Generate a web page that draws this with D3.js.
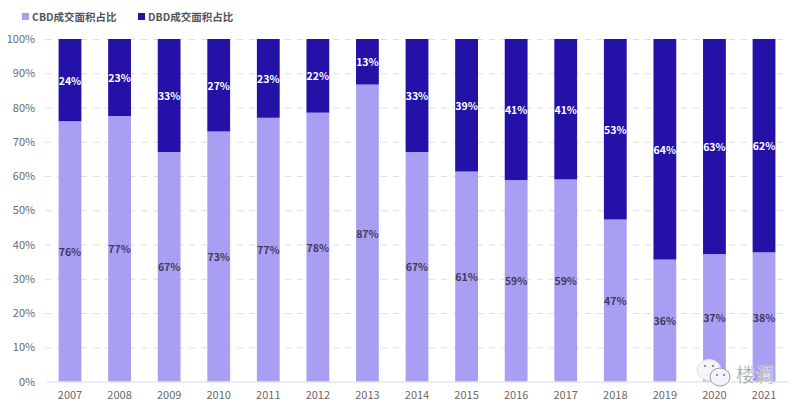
<!DOCTYPE html>
<html>
<head>
<meta charset="utf-8">
<script src="https://cdn.jsdelivr.net/npm/d3@7"></script>
<style>
  html, body { margin: 0; padding: 0; background: #fff; }
  text { font-family: "Noto Sans CJK SC", "Noto Sans", sans-serif; }
</style>
</head>
<body>
<svg id="chart" width="800" height="410"></svg>
<script>
const years = ["2007","2008","2009","2010","2011","2012","2013","2014","2015","2016","2017","2018","2019","2020","2021"];
// bar heights, labels are the printed ones
const cbdValues = [76, 77.5, 67, 73, 77, 78.5, 86.7, 67, 61.3, 58.8, 59, 47.3, 35.6, 37.2, 37.7];
const cbdLabels = [76, 77, 67, 73, 77, 78, 87, 67, 61, 59, 59, 47, 36, 37, 38];
const dbdLabels = [24, 23, 33, 27, 23, 22, 13, 33, 39, 41, 41, 53, 64, 63, 62];
const yTicks = [0, 10, 20, 30, 40, 50, 60, 70, 80, 90, 100];
const seriesNames = ["CBD成交面积占比", "DBD成交面积占比"];
const cbdColor = "#a99ff2", dbdColor = "#2311a8";

const svg = d3.select("#chart");
const x = d3.scaleBand().domain(years).range([45.2, 788.8]).paddingInner(0.54).paddingOuter(0.27);
const y = d3.scaleLinear().domain([0, 100]).range([381.5, 39]);

// y axis + dashed gridlines
const yAxis = svg.append("g").attr("transform", "translate(45.2,0)")
  .call(d3.axisLeft(y).tickValues(yTicks).tickFormat(d => d + "%").tickSize(0).tickPadding(10));
yAxis.select(".domain").remove();
yAxis.selectAll("text").style("font-size", "11px").style("fill", "#6a6a6a");
yAxis.selectAll(".tick").filter(d => d > 0).append("line")
  .attr("x2", 743.6).attr("stroke", "#dedede").attr("stroke-width", 1).attr("stroke-dasharray", "6,6");

// bars
const bars = svg.append("g");
bars.selectAll(".cbd").data(years).enter().append("rect").attr("class", "cbd")
  .attr("x", d => x(d)).attr("width", x.bandwidth())
  .attr("y", (d, i) => y(cbdValues[i])).attr("height", (d, i) => y(0) - y(cbdValues[i]))
  .attr("fill", cbdColor);
bars.selectAll(".dbd").data(years).enter().append("rect").attr("class", "dbd")
  .attr("x", d => x(d)).attr("width", x.bandwidth())
  .attr("y", y(100)).attr("height", (d, i) => y(cbdValues[i]) - y(100))
  .attr("fill", dbdColor);

// x axis
const xAxis = svg.append("g").attr("transform", "translate(0,381.5)")
  .call(d3.axisBottom(x).tickSize(0).tickPadding(10).tickSizeOuter(0));
xAxis.select(".domain").attr("stroke", "#dcdcdc");
xAxis.selectAll("text").style("font-size", "11px").style("fill", "#6a6a6a");

// data labels, centred in each segment
const labels = svg.append("g").attr("text-anchor", "middle").style("font-size", "10.5px").style("font-weight", 700);
labels.selectAll(".lc").data(years).enter().append("text").attr("class", "lc")
  .attr("x", d => x(d) + x.bandwidth() / 2)
  .attr("y", (d, i) => y(cbdValues[i] / 2) + 1).attr("dy", "0.35em")
  .attr("fill", "#3f3a5c").text((d, i) => cbdLabels[i] + "%");
labels.selectAll(".ld").data(years).enter().append("text").attr("class", "ld")
  .attr("x", d => x(d) + x.bandwidth() / 2)
  .attr("y", (d, i) => y((cbdValues[i] + 100) / 2) + 1).attr("dy", "0.35em")
  .attr("fill", "#ffffff").text((d, i) => dbdLabels[i] + "%");

// legend
const legend = svg.append("g").selectAll("g").data(seriesNames).enter().append("g")
  .attr("transform", (d, i) => `translate(${i === 0 ? 22 : 138},0)`);
legend.append("rect").attr("y", 13).attr("width", 7).attr("height", 7)
  .attr("fill", (d, i) => i === 0 ? cbdColor : dbdColor);
legend.append("text").attr("x", 10).attr("y", 17).attr("dy", "0.35em")
  .style("font-size", "10.5px").style("font-weight", 700).style("fill", "#555").text(d => d);

// wechat watermark
const wm = svg.append("g").attr("class", "watermark");
wm.append("ellipse").attr("cx", 709).attr("cy", 370).attr("rx", 12).attr("ry", 10.5)
  .attr("fill", "#f6f6fa").attr("stroke", "#e2e2e2");
wm.append("ellipse").attr("cx", 720).attr("cy", 377).attr("rx", 10).attr("ry", 9)
  .attr("fill", "#f4f3fc").attr("stroke", "#9a9a9a");
[[705, 366], [713, 366], [717, 375], [724, 375]].forEach(p => {
  wm.append("circle").attr("cx", p[0]).attr("cy", p[1]).attr("r", 1.1).attr("fill", "#777");
});
wm.append("text").attr("x", 736).attr("y", 382).style("font-size", "19px").style("fill", "#8f8f8f")
  .style("stroke", "#fff").style("stroke-width", 0.4).text("楼澜");
</script>
</body>
</html>
